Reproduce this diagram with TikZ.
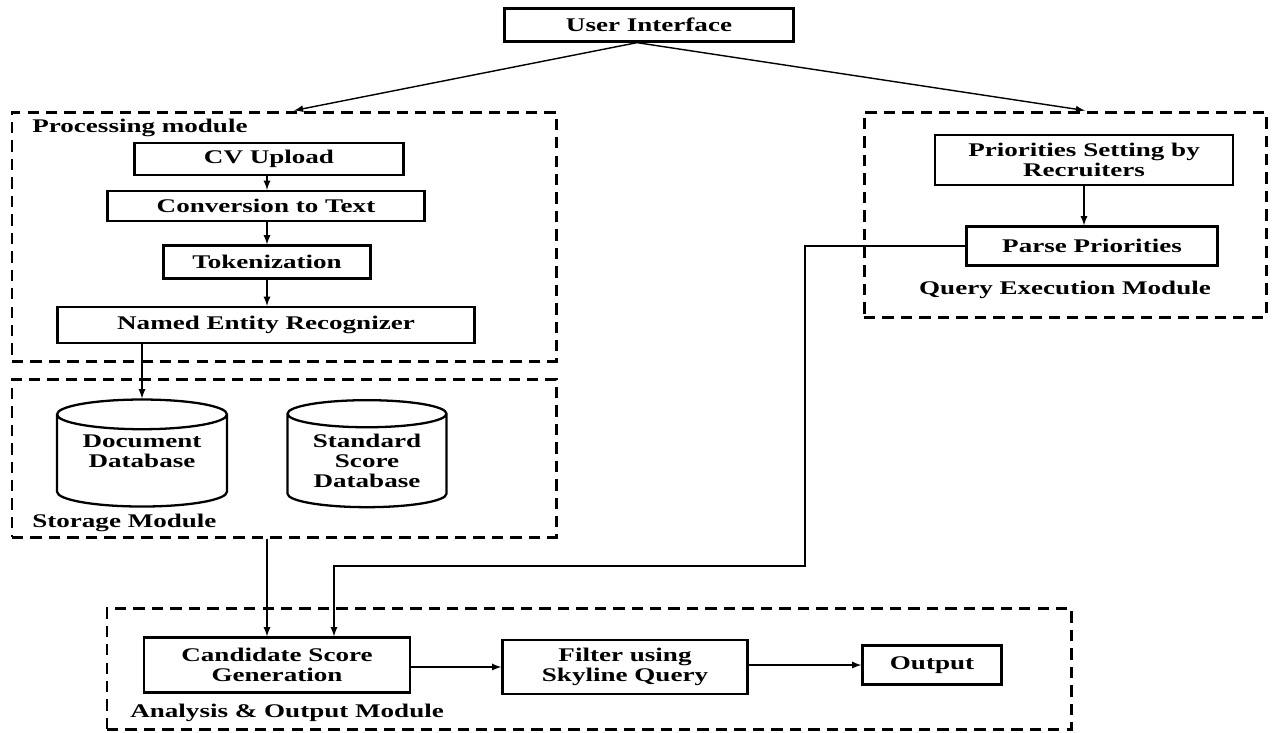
\documentclass[tikz,border=0pt]{standalone}
\usepackage{fontspec}
\setmainfont[FakeStretch=1.4]{Liberation Serif}
\usepackage{tikz}
\usetikzlibrary{arrows,shapes.geometric}

\tikzset{
  blk/.style={draw, rectangle, line width=1.3pt, inner sep=0pt, align=center},
  module/.style={draw, rectangle, dashed, line width=1.7pt,
    dash pattern=on 6.5pt off 4pt, inner sep=0pt},
  dbase/.style={draw, cylinder, shape border rotate=90, aspect=0.25,
    line width=1.3pt, inner sep=0pt, align=center},
  modlabel/.style={inner sep=0pt},
  link/.style={->, line width=0.8pt}
}

\begin{document}
\begin{tikzpicture}[x=0.2mm, y=-0.2mm, >=latex,
  every node/.style={font=\bfseries\fontsize{11}{11.5}\selectfont}]
\useasboundingbox (0,0) rectangle (1275,732);

% modules
\node[module, minimum width=108.8mm, minimum height=49.8mm] (proc) at (284,236.5) {};
\node[module, minimum width=108.8mm, minimum height=31.6mm] (store) at (284,458) {};
\node[module, minimum width=80.4mm, minimum height=41mm] (query) at (1065,214.5) {};
\node[module, minimum width=192.8mm, minimum height=24.2mm] (anal) at (589,668.5) {};

\node[modlabel, anchor=west] (proclab) at (32,128) {Processing module};
\node[modlabel, anchor=west] (storelab) at (32,523) {Storage Module};
\node[modlabel] (querylab) at (1065,290) {Query Execution Module};
\node[modlabel, anchor=west] (anallab) at (130,713) {Analysis \& Output Module};

% boxes
\node[blk, minimum width=57.8mm, minimum height=6.6mm] (ui) at (649,25) {User Interface};
\node[blk, minimum width=53.8mm, minimum height=6.4mm] (cv) at (269,159) {CV Upload};
\node[blk, minimum width=63.4mm, minimum height=6mm] (conv) at (266,206) {Conversion to Text};
\node[blk, minimum width=41.4mm, minimum height=6.6mm] (tok) at (267,262) {Tokenization};
\node[blk, minimum width=83.4mm, minimum height=7.2mm] (ner) at (266,325) {Named Entity Recognizer};

\node[dbase, minimum width=34mm, minimum height=21.4mm, text depth=4mm] (docdb) at (142,461) {Document\\Database};
\node[dbase, minimum width=31.8mm, minimum height=21.4mm] (stddb) at (367,461) {Standard\\Score\\Database};

\node[blk, minimum width=59.6mm, minimum height=10mm] (prio) at (1084,160) {Priorities Setting by\\Recruiters};
\node[blk, minimum width=50.2mm, minimum height=7.8mm] (parse) at (1092,246) {Parse Priorities};

\node[blk, minimum width=53.2mm, minimum height=11mm] (cand) at (277,665) {Candidate Score\\Generation};
\node[blk, minimum width=49mm, minimum height=10.8mm] (filt) at (625,667) {Filter using\\Skyline Query};
\node[blk, minimum width=27.8mm, minimum height=7.8mm] (out) at (932,665) {Output};

\coordinate (bend) at (805,566);

% arrows
\draw[link] ([xshift=-2.4mm]ui.south) -- ([xshift=2mm]proc.north);
\draw[link] ([xshift=-2.4mm]ui.south) -- ([xshift=4mm]query.north);
\draw[link] ([xshift=-0.4mm]cv.south) -- ([xshift=-0.4mm]cv.south |- conv.north);
\draw[link] ([xshift=0.2mm]conv.south) -- ([xshift=0.2mm]conv.south |- tok.north);
\draw[link] (tok.south) -- (tok.south |- ner.north);
\draw[link] (ner.south -| docdb.north) -- (docdb.north);
\draw[link] (prio.south) -- (prio.south |- parse.north);
\draw[link] ([xshift=-2mm]cand.north |- store.south) -- ([xshift=-2mm]cand.north);
\draw[link] (parse.west) -| (bend) -| ([xshift=11.4mm]cand.north);
\draw[link] (cand.east |- filt) -- (filt.west);
\draw[link] (filt.east |- out) -- (out.west);
\end{tikzpicture}
\end{document}
